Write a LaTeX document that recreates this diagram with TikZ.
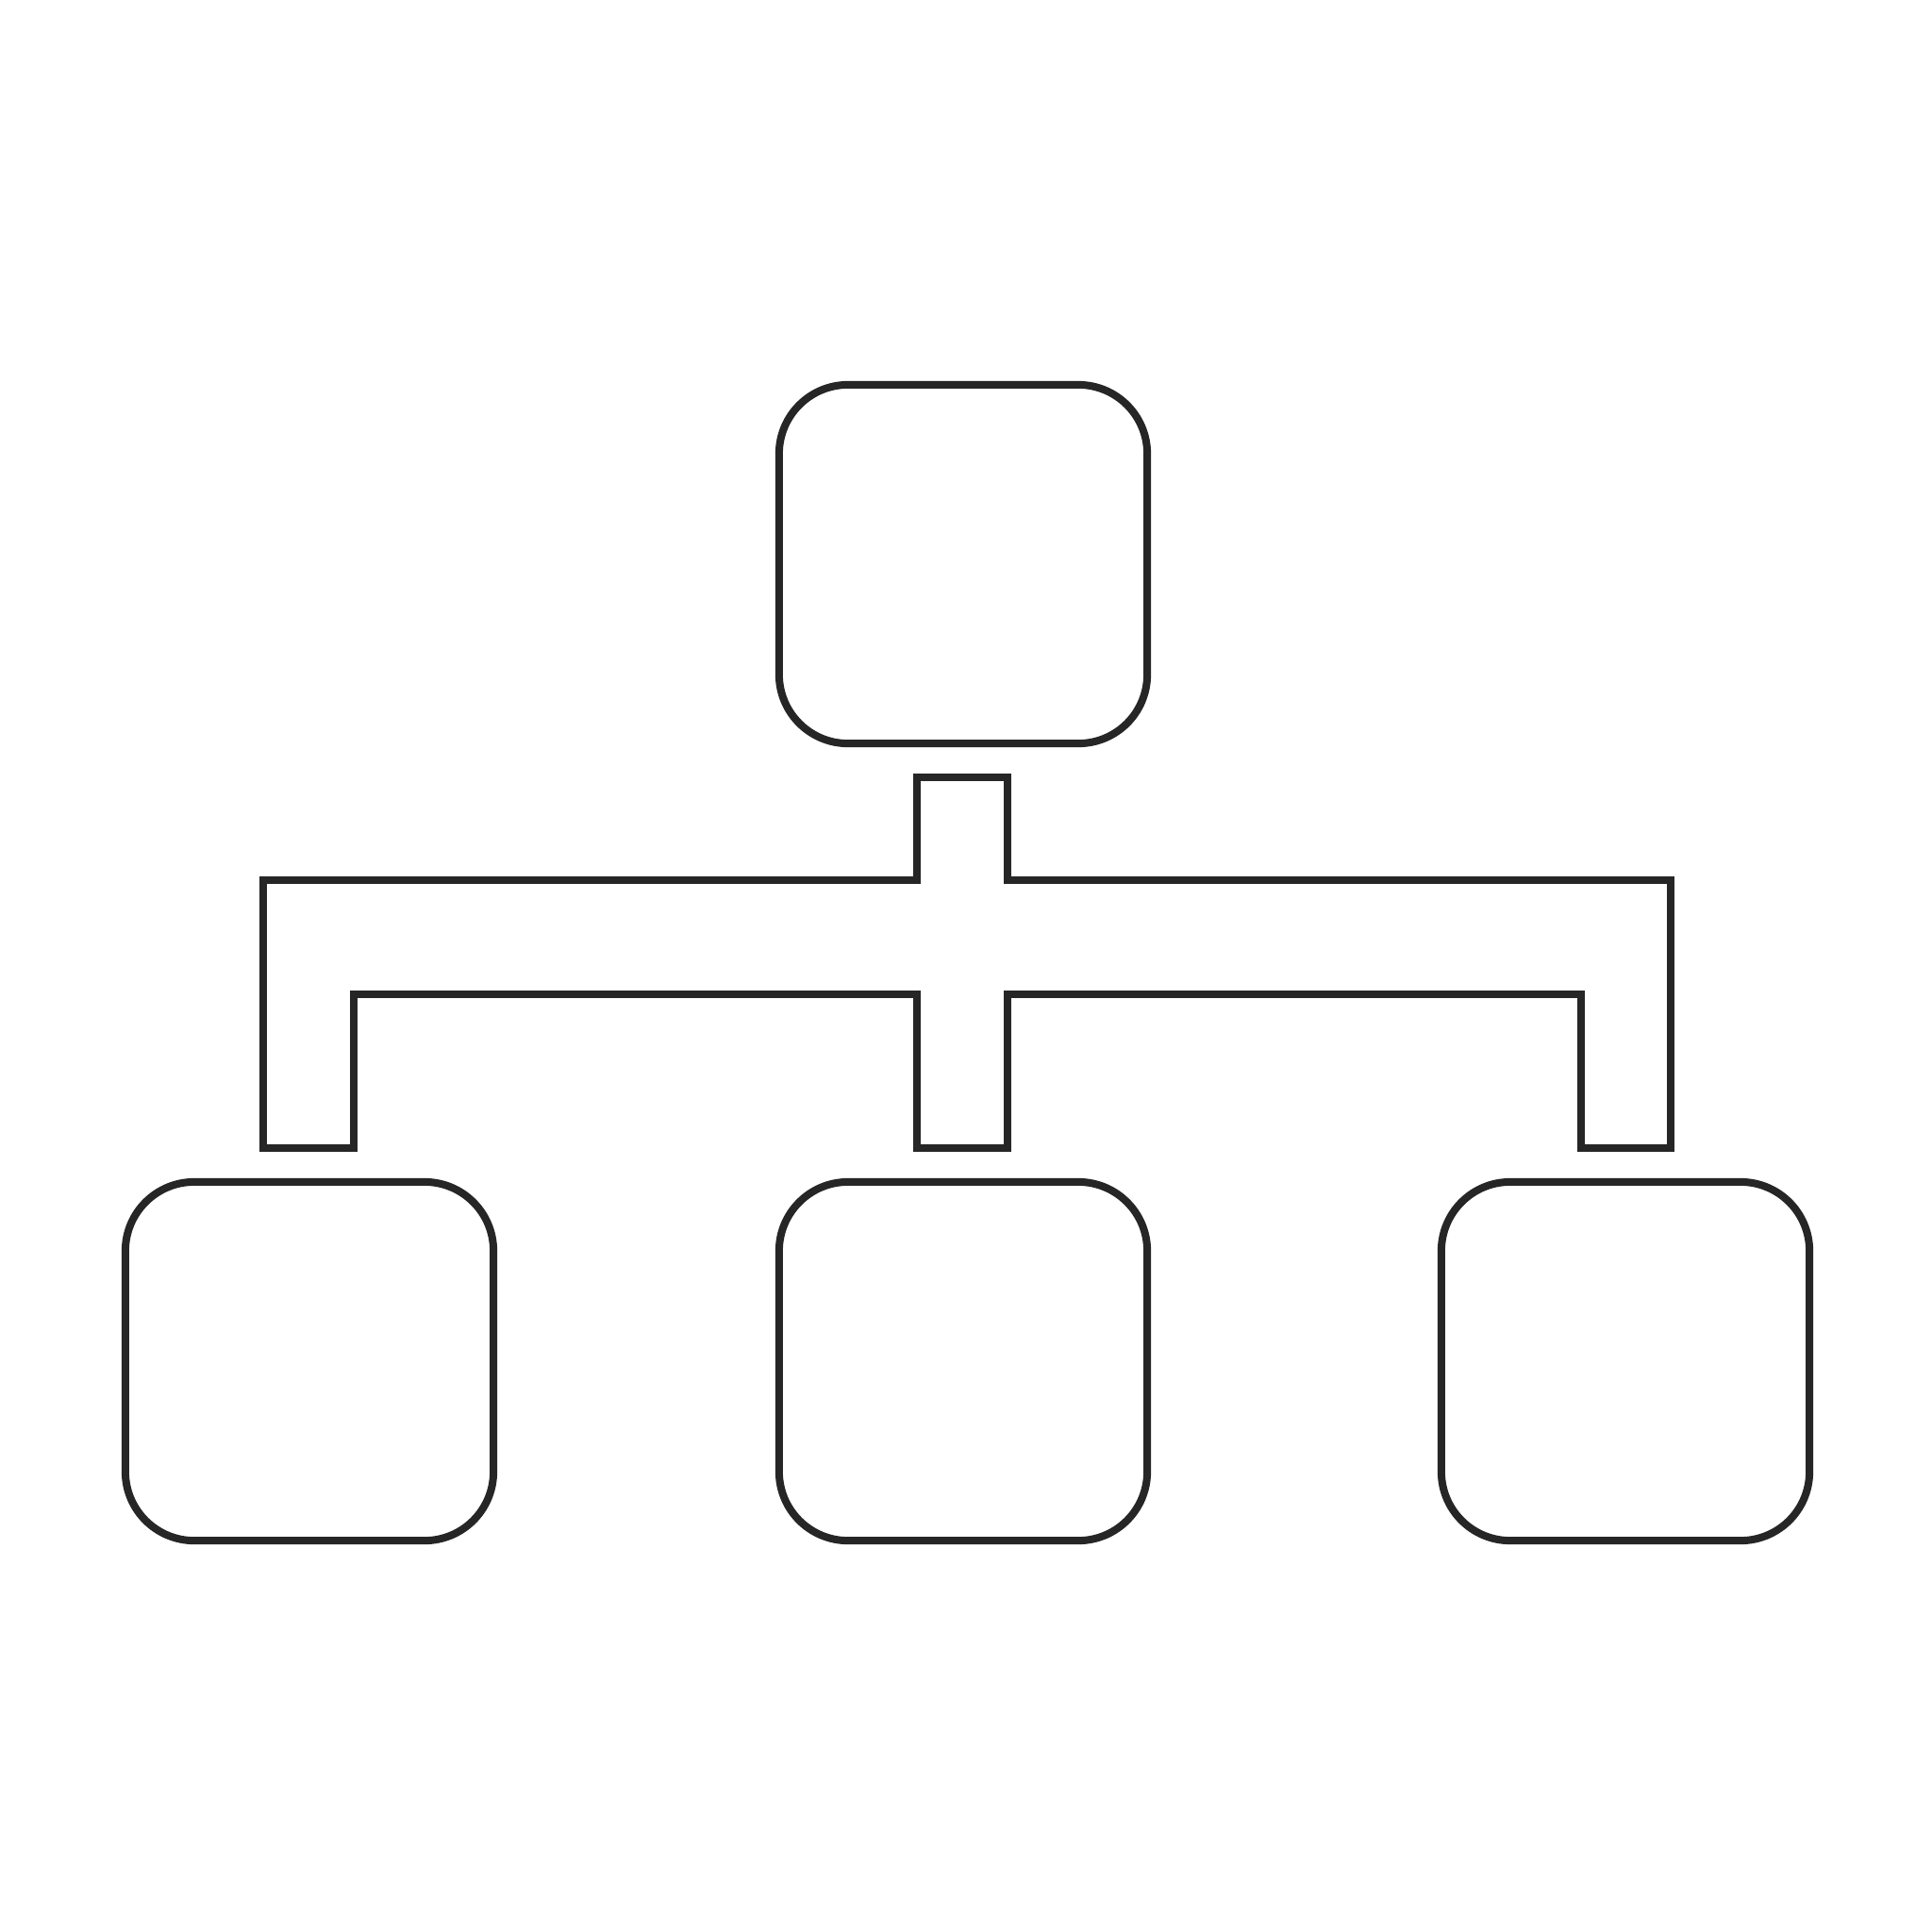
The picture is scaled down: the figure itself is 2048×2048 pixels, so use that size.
\documentclass[tikz,border=0pt]{standalone}
\begin{document}
\begin{tikzpicture}[x=0.01cm,y=-0.01cm,
  box/.style={draw=black!85, line width=0.08cm, rounded corners=0.73cm, inner sep=0pt, outer sep=0pt, minimum width=3.9cm, minimum height=3.8cm},
  bar/.style={draw=black!85, line width=0.08cm, line join=miter}]
\useasboundingbox[fill=white] (0,0) rectangle (2048,2048);
\node[box] (top) at (1021,598) {};
\node[box] (left) at (328,1443) {};
\node[box] (mid) at (1021,1443) {};
\node[box] (right) at (1723,1443) {};
\draw[bar] (972,824) -- (1068,824) -- (1068,933) -- (1771,933) -- (1771,1217)
  -- (1676,1217) -- (1676,1054) -- (1068,1054) -- (1068,1217) -- (972,1217)
  -- (972,1054) -- (375,1054) -- (375,1217) -- (279,1217) -- (279,933)
  -- (972,933) -- cycle;
\end{tikzpicture}
\end{document}
